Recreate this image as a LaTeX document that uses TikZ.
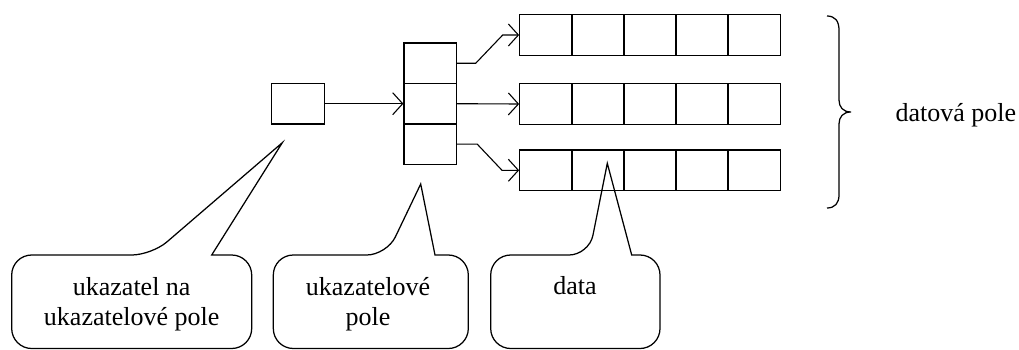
\documentclass[tikz,border=0pt]{standalone}
\usepackage{fontspec}
\setmainfont{Liberation Serif}
\usetikzlibrary{arrows.meta}
\begin{document}
\begin{tikzpicture}[x=1pt,y=-1pt,
  line width=1.25pt,
  cell/.style={draw, minimum width=52.5pt, minimum height=40.5pt, inner sep=0pt},
  ptr/.style={-{Straight Barb[length=10pt,width=22pt]}, line width=1.1pt},
  callout/.style={draw, line width=1.25pt, rounded corners=20pt},
  lbl/.style={font=\fontsize{26}{30}\selectfont, inner sep=0pt, align=center}]
\useasboundingbox (0,0) rectangle (1019,350);

% pointer to pointer array
\node[cell] (s) at (298,103.7) {};
% pointer array
\node[cell] (p1) at (430.3,63.3) {};
\node[cell] (p2) at (430.3,103.7) {};
\node[cell] (p3) at (430.3,144.1) {};
% data arrays
\foreach \r/\y in {1/35, 2/104, 3/170.3}{
  \foreach \c/\x in {1/546, 2/598, 3/650, 4/702, 5/754}{
    \node[cell] (d\r\c) at (\x,\y) {};
  }
}
% arrows
\draw[ptr] (s.east) -- (p2.west);
\draw[ptr] (p1.east) -- ++(18.5,0) -- (502.7,0 |- d11.west) -- (d11.west);
\draw[ptr] (p2.east) -- (d21.west);
\draw[ptr] (p3.east) -- ++(20,0) -- (502,0 |- d31.west) -- (d31.west);

% brace
\coordinate (bt) at (827,16);
\coordinate (bm) at (851,112);
\coordinate (bb) at (827,208);
\draw (bt) .. controls (835,16) and (839,21) .. (839,30) -- (839,100)
  .. controls (839,107) and (843,112) .. (bm)
  .. controls (843,112) and (839,117) .. (839,124) -- (839,195)
  .. controls (839,203) and (835,208) .. (bb);
\node[lbl, anchor=base west] (dp) at (895,121.5) {datová pole};

% callouts
\coordinate (tip1) at (282.3,142.7);
\coordinate (tip2) at (420.7,184);
\coordinate (tip3) at (607.3,163.3);

\draw[callout] (211.7,255) -- (251.7,255) -- (251.7,348.5) -- (11.7,348.5)
  -- (11.7,255) -- (151.7,255) [sharp corners] -- (tip1) -- cycle;
\draw[callout] (435,255) -- (468.3,255) -- (468.3,348.5) -- (273.3,348.5)
  -- (273.3,255) -- (386.7,255) [sharp corners] -- (tip2) -- cycle;
\draw[callout] (631.7,255) -- (660,255) -- (660,348.5) -- (490.7,348.5)
  -- (490.7,255) -- (589,255) [sharp corners] -- (tip3) -- cycle;

\node[lbl, anchor=base] (c1) at (131.7,325) {ukazatel na\\ukazatelové pole};
\node[lbl, anchor=base] (c2) at (368,325) {ukazatelové\\pole};
\node[lbl, anchor=base] (c3) at (575,294) {data};
\end{tikzpicture}
\end{document}
